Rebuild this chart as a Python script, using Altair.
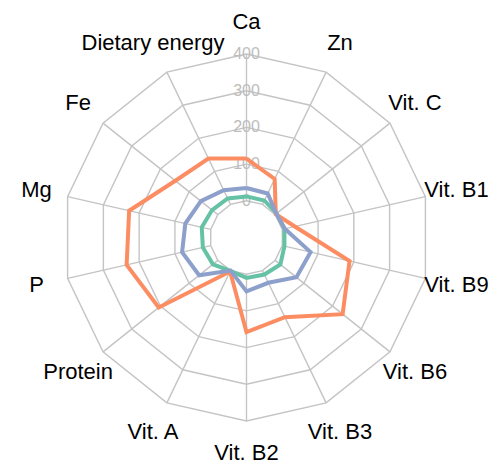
import altair as alt
import pandas as pd

categories = ["Ca", "Zn", "Vit. C", "Vit. B1", "Vit. B9", "Vit. B6", "Vit. B3",
              "Vit. B2", "Vit. A", "Protein", "P", "Mg", "Fe", "Dietary energy"]
series_ids = ["s1", "s2", "s3"]
colors = ["#66c2a5", "#fc8d62", "#8da0cb"]
green_vals = [12, 12, 5, 6, 6, 18, 12, 10, 1, 17, 22, 25, 20, 18]
orange_vals = [115, 77, 2, 35, 188, 235, 141, 158, 3, 206, 235, 228, 148, 139]
blue_vals = [35, 33, 4, 7, 79, 74, 37, 47, 0, 65, 80, 71, 59, 43]
levels = [0, 100, 200, 300, 400]
level_labels = ["0", "100", "200", "300", "400"]

N = len(categories)
HOLE = 100          # radial offset of the zero ring, in data units
LABEL_R = 487       # value at which the category labels sit
MAXV = 400

# ---- tables ----
rows = []
for sid, vals in zip(series_ids, [green_vals, orange_vals, blue_vals]):
    for i in range(N + 1):
        rows.append({"series": sid, "idx": i, "value": vals[i % N]})
series_df = pd.DataFrame(rows)

ring_rows = []
for lv in levels:
    for i in range(N + 1):
        ring_rows.append({"level": lv, "idx": i, "value": lv})
ring_df = pd.DataFrame(ring_rows)

spoke_df = pd.DataFrame({"idx": list(range(N)), "v0": [0] * N, "v1": [MAXV] * N})
label_df = pd.DataFrame({"idx": list(range(N)), "cat": categories, "value": [LABEL_R] * N})
tick_df = pd.DataFrame({"idx": [0] * len(levels), "value": levels, "lab": level_labels})

def xexpr(field):
    return f"(datum.{field} + {HOLE}) * sin(datum.idx * 2 * PI / {N})"

def yexpr(field):
    return f"(datum.{field} + {HOLE}) * cos(datum.idx * 2 * PI / {N})"

DOM = [-(MAXV + HOLE), MAXV + HOLE]
xs = alt.Scale(domain=DOM, nice=False, zero=False)
ys = alt.Scale(domain=DOM, nice=False, zero=False)
GRID = "#c4c4c4"

rings = alt.Chart(ring_df).mark_line(color=GRID, strokeWidth=1.4).transform_calculate(
    px=xexpr("value"), py=yexpr("value")
).encode(
    x=alt.X("px:Q", scale=xs, axis=None),
    y=alt.Y("py:Q", scale=ys, axis=None),
    detail="level:N",
    order="idx:Q",
)

spokes = alt.Chart(spoke_df).mark_rule(color=GRID, strokeWidth=1.4).transform_calculate(
    px0=xexpr("v0"), py0=yexpr("v0"), px1=xexpr("v1"), py1=yexpr("v1")
).encode(
    x=alt.X("px0:Q", scale=xs, axis=None),
    y=alt.Y("py0:Q", scale=ys, axis=None),
    x2="px1:Q",
    y2="py1:Q",
)

ticks = alt.Chart(tick_df).mark_text(
    color="#bdbdbd", fontSize=16, font="Liberation Sans", align="center", baseline="middle"
).transform_calculate(
    px=xexpr("value"), py=yexpr("value")
).encode(
    x=alt.X("px:Q", scale=xs, axis=None),
    y=alt.Y("py:Q", scale=ys, axis=None),
    text="lab:N",
)

lines = alt.Chart(series_df).mark_line(strokeWidth=4).transform_calculate(
    px=xexpr("value"), py=yexpr("value")
).encode(
    x=alt.X("px:Q", scale=xs, axis=None),
    y=alt.Y("py:Q", scale=ys, axis=None),
    color=alt.Color("series:N", scale=alt.Scale(domain=series_ids, range=colors), legend=None),
    order="idx:Q",
)

labels = alt.Chart(label_df).mark_text(
    color="black", fontSize=22, font="Liberation Sans", align="center", baseline="middle"
).transform_calculate(
    px=xexpr("value"), py=yexpr("value")
).encode(
    x=alt.X("px:Q", scale=xs, axis=None),
    y=alt.Y("py:Q", scale=ys, axis=None),
    text="cat:N",
)

chart = alt.layer(rings, spokes, ticks, lines, labels).properties(
    width=367,
    height=367,
    padding={"left": 55, "top": 46, "right": 65, "bottom": 43},
    autosize=alt.AutoSizeParams(type="none"),
).configure_view(stroke=None)

chart.save("out.html", embed_options={"renderer": "svg", "actions": False})
